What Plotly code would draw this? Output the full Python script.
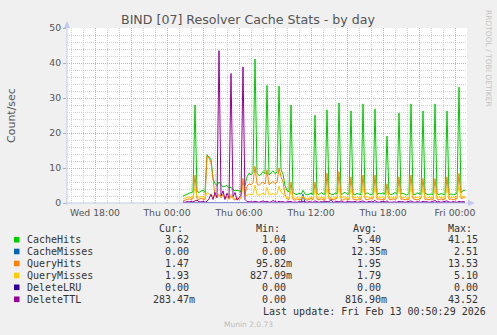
import pandas as pd
import plotly.graph_objects as go

# ---------------- data (10-minute samples, Thu 12 Feb 2026 01:20 .. Fri 13 Feb 00:50) ----------------
START = "2026-02-12 01:20"
N_SAMPLES = 142
times = pd.date_range(START, periods=N_SAMPLES, freq="10min")

cache_hits = [
    2.0, 2.3, 2.6, 2.8, 3.0, 3.2,
    28.0, 3.3, 3.0, 3.4, 3.7, 3.0,
    13.8, 13.0, 12.5, 7.0, 5.5, 5.0,
    6.0, 5.2, 4.6, 4.8, 5.0, 4.3,
    4.5, 3.8, 3.5, 3.6, 3.4, 3.3,
    5.5, 5.0, 7.5, 8.5, 8.0, 8.8,
    41.15, 8.5, 7.8, 8.2, 9.0, 8.3,
    33.6, 8.0, 8.6, 9.2, 8.4, 8.8,
    33.4, 9.5, 8.2, 5.0, 3.5, 3.2,
    28.0, 3.0, 2.6, 2.4, 2.8, 2.5,
    3.6, 2.6, 2.3, 2.5, 2.8, 2.4,
    25.1, 2.7, 2.4, 3.0, 2.6, 2.5,
    26.6, 2.8, 2.5, 2.3, 2.9, 2.6,
    28.6, 2.4, 2.7, 3.1, 2.5, 2.6,
    26.3, 2.6, 2.3, 2.8, 2.5, 2.4,
    28.3, 2.5, 2.9, 2.6, 2.3, 2.7,
    26.9, 2.4, 2.8, 2.6, 2.9, 2.5,
    19.1, 2.7, 2.4, 2.6, 3.0, 2.5,
    25.7, 2.6, 2.8, 2.5, 2.3, 2.7,
    28.3, 2.5, 2.4, 2.9, 2.6, 2.5,
    26.3, 2.8, 2.5, 2.3, 2.6, 2.4,
    28.3, 2.6, 2.4, 2.7, 2.5, 2.3,
    26.3, 2.4, 2.6, 2.3, 2.5, 2.8,
    33.1, 3.0, 3.5, 3.62,
]

cache_misses = [
    0, 0, 0, 0, 0, 0,
    0, 0, 0, 0, 0, 0,
    0, 0, 0, 0, 0, 0,
    0, 0, 0, 0, 0, 0,
    0, 0, 0, 0, 0, 0,
    0, 0, 0, 0, 0, 0,
    0, 0, 0, 0, 0, 0,
    0, 0, 0, 0, 0, 0,
    0, 0, 0, 0, 0, 0,
    0, 0, 0, 0, 0, 0,
    2.51, 0, 0, 0, 0, 0,
    0, 0, 0, 0, 0, 0,
    0, 0, 0, 0, 0, 0,
    0, 0, 0, 0, 0, 0,
    0, 0, 0, 0, 0, 0,
    0, 0, 0, 0, 0, 0,
    0, 0, 0, 0, 0, 0,
    0, 0, 0, 0, 0, 0,
    0, 0, 0, 0, 0, 0,
    0, 0, 0, 0, 0, 0,
    0, 0, 0, 0, 0, 0,
    0, 0, 0, 0, 0, 0,
    0, 0, 0, 0, 0, 0,
    0, 0, 0, 0,
]

query_hits = [
    0.6, 0.8, 1.0, 1.2, 1.0, 1.3,
    8.0, 1.2, 1.0, 1.4, 1.1, 0.9,
    13.53, 12.8, 11.5, 6.0, 2.0, 1.5,
    2.5, 1.5, 2.5, 1.2, 1.8, 1.0,
    2.0, 1.2, 0.8, 1.5, 1.0, 1.3,
    7.0, 2.5, 4.8, 5.5, 5.2, 5.8,
    10.5, 5.5, 5.0, 5.6, 6.0, 5.4,
    9.5, 5.2, 5.7, 6.2, 5.5, 6.0,
    10.0, 7.5, 6.0, 2.5, 1.2, 1.0,
    6.0, 1.0, 0.8, 1.2, 0.9, 1.1,
    1.8, 1.0, 0.8, 1.1, 1.3, 0.9,
    6.0, 1.1, 0.9, 1.2, 1.0, 0.8,
    8.5, 1.0, 1.2, 0.9, 1.1, 1.3,
    9.0, 1.0, 0.8, 1.2, 1.1, 0.9,
    7.5, 1.1, 1.0, 0.8, 1.2, 1.0,
    8.0, 1.2, 0.9, 1.0, 1.3, 1.1,
    8.0, 1.0, 1.2, 0.9, 1.1, 1.0,
    5.5, 1.1, 0.9, 1.2, 1.0, 1.3,
    7.5, 1.0, 1.2, 0.9, 1.1, 1.0,
    8.0, 1.2, 1.0, 0.9, 1.1, 1.3,
    7.0, 1.0, 1.1, 0.9, 1.2, 1.0,
    7.0, 1.1, 0.9, 1.2, 1.0, 1.1,
    7.5, 1.0, 1.2, 0.9, 1.1, 1.2,
    8.5, 1.3, 1.5, 1.47,
]

query_misses = [
    1.2, 1.4, 1.6, 1.8, 1.5, 1.7,
    4.5, 1.8, 1.6, 1.9, 1.7, 1.5,
    3.0, 2.5, 2.2, 2.0, 1.8, 1.6,
    2.5, 1.8, 2.2, 1.6, 1.9, 1.4,
    2.5, 1.5, 1.2, 1.6, 1.3, 1.4,
    5.0, 2.0, 2.2, 2.6, 2.3, 2.5,
    5.1, 2.4, 2.2, 2.6, 2.8, 2.3,
    4.5, 2.3, 2.5, 2.7, 2.4, 2.6,
    4.8, 3.0, 2.6, 1.8, 1.5, 1.4,
    3.5, 1.5, 1.3, 1.6, 1.4, 1.5,
    1.9, 1.4, 1.2, 1.5, 1.6, 1.3,
    3.8, 1.5, 1.4, 1.7, 1.5, 1.3,
    4.2, 1.6, 1.5, 1.3, 1.7, 1.5,
    4.5, 1.4, 1.6, 1.8, 1.5, 1.3,
    4.0, 1.5, 1.6, 1.4, 1.7, 1.5,
    4.6, 1.6, 1.8, 1.5, 1.4, 1.6,
    4.4, 1.5, 1.7, 1.6, 1.8, 1.5,
    3.5, 1.6, 1.4, 1.7, 1.5, 1.8,
    4.2, 1.6, 1.5, 1.7, 1.4, 1.6,
    4.5, 1.7, 1.5, 1.6, 1.8, 1.5,
    4.2, 1.6, 1.4, 1.7, 1.5, 1.6,
    4.0, 1.5, 1.7, 1.6, 1.4, 1.5,
    4.3, 1.6, 1.5, 1.7, 1.6, 1.8,
    4.8, 1.7, 1.9, 1.93,
]

delete_lru = [
    0, 0, 0, 0, 0, 0,
    0, 0, 0, 0, 0, 0,
    0, 0, 0, 0, 0, 0,
    0, 0, 0, 0, 0, 0,
    0, 0, 0, 0, 0, 0,
    0, 0, 0, 0, 0, 0,
    0, 0, 0, 0, 0, 0,
    0, 0, 0, 0, 0, 0,
    0, 0, 0, 0, 0, 0,
    0, 0, 0, 0, 0, 0,
    0, 0, 0, 0, 0, 0,
    0, 0, 0, 0, 0, 0,
    0, 0, 0, 0, 0, 0,
    0, 0, 0, 0, 0, 0,
    0, 0, 0, 0, 0, 0,
    0, 0, 0, 0, 0, 0,
    0, 0, 0, 0, 0, 0,
    0, 0, 0, 0, 0, 0,
    0, 0, 0, 0, 0, 0,
    0, 0, 0, 0, 0, 0,
    0, 0, 0, 0, 0, 0,
    0, 0, 0, 0, 0, 0,
    0, 0, 0, 0, 0, 0,
    0, 0, 0, 0,
]

delete_ttl = [
    0.3, 0.2, 0.4, 0.3, 0.5, 0.3,
    0.6, 0.8, 0.4, 0.3, 0.5, 0.2,
    0.5, 1.2, 2.5, 1.0, 3.0, 1.5,
    43.52, 2.0, 3.5, 1.0, 2.8, 1.5,
    37.0, 1.8, 3.0, 0.8, 1.5, 2.2,
    38.9, 1.0, 0.4, 0.3, 0.2, 0.3,
    0.5, 0.3, 0.2, 0.4, 0.6, 0.3,
    0.5, 0.2, 0.3, 0.7, 0.4, 0.2,
    0.5, 0.3, 0.4, 0.2, 0.3, 0.5,
    0.4, 0.2, 0.3, 0.2, 0.4, 0.3,
    0.5, 0.3, 0.2, 0.4, 0.3, 0.2,
    0.6, 0.3, 0.2, 0.4, 0.3, 0.5,
    0.4, 0.3, 1.0, 0.2, 0.3, 0.5,
    0.3, 0.6, 0.3, 0.2, 0.4, 0.3,
    0.4, 0.3, 0.5, 0.2, 0.3, 0.4,
    0.6, 0.3, 0.2, 0.5, 0.3, 0.4,
    0.7, 0.3, 0.2, 0.4, 0.5, 0.3,
    0.6, 0.2, 0.3, 0.4, 0.3, 0.2,
    0.5, 0.3, 0.4, 0.2, 0.3, 0.5,
    0.6, 0.3, 0.2, 0.4, 0.3, 0.2,
    0.5, 0.3, 0.4, 0.2, 0.3, 0.5,
    0.7, 0.3, 0.4, 0.2, 0.3, 0.5,
    0.6, 0.3, 0.2, 0.4, 0.3, 0.2,
    0.5, 0.3, 0.4, 0.28347,
]

series_names = ["CacheHits", "CacheMisses", "QueryHits", "QueryMisses", "DeleteLRU", "DeleteTTL"]
series_colors = ["#00CC00", "#0066B3", "#FF8000", "#FFCC00", "#330099", "#990099"]
stat_cur = ["3.62", "0.00", "1.47", "1.93", "0.00", "283.47m"]
stat_min = ["1.04", "0.00", "95.82m", "827.09m", "0.00", "0.00"]
stat_avg = ["5.40", "12.35m", "1.95", "1.79", "0.00", "816.90m"]
stat_max = ["41.15", "2.51", "13.53", "5.10", "0.00", "43.52"]

x_tick_times = ["2026-02-11 18:00", "2026-02-11 21:00", "2026-02-12 00:00", "2026-02-12 03:00",
                "2026-02-12 06:00", "2026-02-12 09:00", "2026-02-12 12:00", "2026-02-12 15:00",
                "2026-02-12 18:00", "2026-02-12 21:00", "2026-02-13 00:00"]
x_tick_text = ["Wed 18:00", "", "Thu 00:00", "", "Thu 06:00", "", "Thu 12:00", "",
               "Thu 18:00", "", "Fri 00:00"]
y_ticks = [0, 10, 20, 30, 40, 50]

TITLE = "BIND [07] Resolver Cache Stats - by day"
Y_TITLE = "Count/sec"
LAST_UPDATE = "Last update: Fri Feb 13 00:50:29 2026"
SIDE_TEXT = "RRDTOOL / TOBI OETIKER"
FOOTER = "Munin 2.0.73"

# ---------------- figure ----------------
W, H = 497, 335
L, R, T, B = 67, 467, 28, 203  # plot area in pixels


def px(x):
    return (x - L) / (R - L)


def py(y):
    return (B - y) / (B - T)


all_series = [cache_hits, cache_misses, query_hits, query_misses, delete_lru, delete_ttl]

fig = go.Figure()
for name, color, vals in zip(series_names, series_colors, all_series):
    fig.add_trace(go.Scatter(x=times, y=vals, mode="lines", name=name,
                             line=dict(color=color, width=1), hoverinfo="skip"))

MAJOR_GRID = "#eaa6a6"
MINOR_GRID = "#d2d2d2"
AXIS_COLOR = "#c3c8ee"
TICK_FONT = dict(family="DejaVu Sans", size=9.3, color="#555555")

fig.update_layout(
    width=W, height=H,
    margin=dict(l=L, r=W - R, t=T, b=H - B, pad=0),
    paper_bgcolor="#f0f0f0", plot_bgcolor="#ffffff",
    showlegend=False, hovermode=False,
    xaxis=dict(
        type="date",
        range=["2026-02-11 15:40", "2026-02-13 01:00"],
        tickmode="array", tickvals=x_tick_times, ticktext=x_tick_text,
        tickfont=TICK_FONT, ticks="", ticklabelstandoff=3,
        showgrid=True, gridcolor=MAJOR_GRID, griddash="1px,1px", gridwidth=1,
        minor=dict(dtick=3600000, tick0="2026-02-11 16:00", showgrid=True,
                   gridcolor=MINOR_GRID, griddash="1px,1px", gridwidth=1),
        zeroline=False, showline=False, fixedrange=True,
    ),
    yaxis=dict(
        range=[0, 50], tickmode="array", tickvals=y_ticks,
        tickfont=TICK_FONT, ticks="outside", ticklen=3, tickcolor="#b0b0b0",
        showgrid=True, gridcolor=MAJOR_GRID, griddash="1px,1px", gridwidth=1,
        minor=dict(dtick=2, showgrid=True, gridcolor=MINOR_GRID,
                   griddash="1px,1px", gridwidth=1),
        zeroline=False, showline=False, fixedrange=True,
    ),
)

shapes = []
# axes with arrows
shapes.append(dict(type="line", xref="paper", yref="paper", x0=px(L), x1=px(L), y0=py(B + 2), y1=py(23),
                   line=dict(color=AXIS_COLOR, width=1), layer="above"))
shapes.append(dict(type="line", xref="paper", yref="paper", x0=px(L - 2), x1=px(471), y0=py(B), y1=py(B),
                   line=dict(color=AXIS_COLOR, width=1), layer="above"))
shapes.append(dict(type="path", xref="paper", yref="paper",
                   path=f"M {px(64)} {py(28)} L {px(70)} {py(28)} L {px(67)} {py(21)} Z",
                   fillcolor=AXIS_COLOR, line=dict(width=0), layer="above"))
shapes.append(dict(type="path", xref="paper", yref="paper",
                   path=f"M {px(468)} {py(200)} L {px(468)} {py(206)} L {px(475)} {py(203)} Z",
                   fillcolor=AXIS_COLOR, line=dict(width=0), layer="above"))

annotations = []


def text_at(x, y, s, size, color, family="DejaVu Sans", xanchor="center", angle=0):
    annotations.append(dict(xref="paper", yref="paper", x=px(x), y=py(y), text=s, showarrow=False,
                            xanchor=xanchor, yanchor="middle", textangle=angle, borderpad=0,
                            font=dict(family=family, size=size, color=color)))


text_at(248, 19, TITLE, 12.6, "#555555")
text_at(11, 115, Y_TITLE, 11, "#555555", angle=-90)
text_at(488, 58, SIDE_TEXT, 7.5, "#c4c4c4", angle=90)
text_at(248, 324, FOOTER, 7.5, "#bdbdbd")

MONO = "DejaVu Sans Mono"
MS = 10
CW = 6.02
HDR_Y = 228.3
ROW_Y = [239.7, 251.5, 263.5, 275.5, 287.3, 299.3]
text_at(158, HDR_Y, "Cur:", MS, "#333333", MONO, "left")
text_at(255, HDR_Y, "Min:", MS, "#333333", MONO, "left")
text_at(351.5, HDR_Y, "Avg:", MS, "#333333", MONO, "left")
text_at(446.7, HDR_Y, "Max:", MS, "#333333", MONO, "left")

col_right = [188, 284.7, 380.5, 476.6]
for i, name in enumerate(series_names):
    y = ROW_Y[i]
    shapes.append(dict(type="rect", xref="paper", yref="paper",
                       x0=px(14), x1=px(19.5), y0=py(y + 2.8), y1=py(y - 2.8),
                       fillcolor=series_colors[i], line=dict(width=0), layer="above"))
    text_at(26, y, name, MS, "#333333", MONO, "left")
    for col, vals in zip(col_right, [stat_cur, stat_min, stat_avg, stat_max]):
        s = vals[i]
        n = len(s.rstrip("m"))
        text_at(col - n * CW, y, s, MS, "#333333", MONO, "left")

text_at(261.7, 311.5, LAST_UPDATE, MS, "#333333", MONO, "left")

fig.update_layout(shapes=shapes, annotations=annotations)

fig.write_html("out.html", config={"displayModeBar": False, "staticPlot": True})
